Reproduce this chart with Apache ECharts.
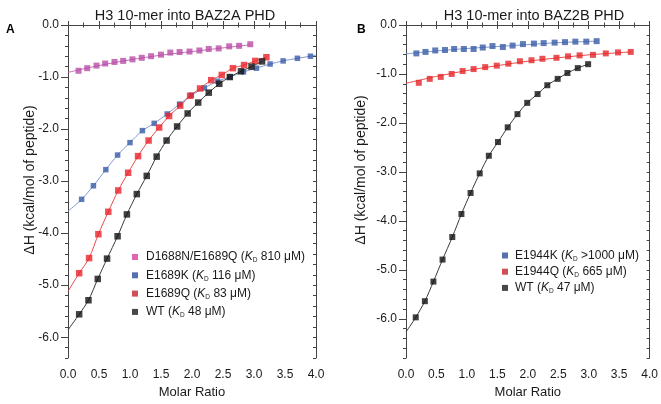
<!DOCTYPE html>
<html>
<head>
<meta charset="utf-8">
<script src="https://cdn.jsdelivr.net/npm/echarts@6/dist/echarts.min.js"></script>
<style>
  html, body { margin: 0; padding: 0; background: #fff; }
  #main { width: 661px; height: 404px; }
</style>
</head>
<body>
<div id="main"></div>
<script>
// ---- data ----
// panel A: H3 10-mer into BAZ2A PHD
var aMagX = [0.17,0.31,0.46,0.60,0.75,0.89,1.04,1.19,1.34,1.50,1.65,1.80,1.96,2.12,2.27,2.43,2.60,2.76,2.94];
var aMagY = [-0.88,-0.83,-0.78,-0.74,-0.71,-0.69,-0.66,-0.63,-0.60,-0.57,-0.53,-0.52,-0.51,-0.49,-0.46,-0.45,-0.41,-0.40,-0.37];
var aBlueX = [0.22,0.41,0.61,0.80,1.00,1.20,1.39,1.60,1.80,1.99,2.20,2.41,2.61,2.83,3.04,3.26,3.47,3.70,3.91];
var aBlueY = [-3.35,-3.09,-2.78,-2.50,-2.26,-2.03,-1.89,-1.71,-1.52,-1.35,-1.21,-1.08,-1.00,-0.90,-0.83,-0.75,-0.69,-0.64,-0.60];
var aRedX = [0.18,0.34,0.49,0.65,0.81,0.97,1.13,1.30,1.47,1.63,1.81,1.97,2.13,2.31,2.48,2.66,2.84,3.02,3.20];
var aRedY = [-4.77,-4.48,-4.02,-3.59,-3.18,-2.84,-2.52,-2.22,-1.97,-1.75,-1.55,-1.36,-1.22,-1.06,-0.96,-0.83,-0.77,-0.69,-0.62];
var aWtX = [0.18,0.33,0.48,0.63,0.80,0.95,1.11,1.27,1.43,1.59,1.76,1.93,2.10,2.27,2.44,2.61,2.79,2.96,3.13];
var aWtY = [-5.56,-5.29,-4.88,-4.49,-4.06,-3.64,-3.25,-2.90,-2.53,-2.22,-1.95,-1.70,-1.49,-1.30,-1.13,-1.00,-0.89,-0.80,-0.70];

// fitted curves, panel A
var aMagFitX = [0, 0.5, 1.0, 1.5, 2.0, 2.5, 2.94];
var aMagFitY = [-0.91, -0.78, -0.67, -0.58, -0.51, -0.44, -0.38];
var aBlueFitX = [0].concat(aBlueX, [4.0]);
var aBlueFitY = [-3.58].concat(aBlueY, [-0.58]);
var aRedFitX = [0].concat(aRedX);
var aRedFitY = [-5.12].concat(aRedY);
var aWtFitX = [0].concat(aWtX);
var aWtFitY = [-5.86].concat(aWtY);

// panel B: H3 10-mer into BAZ2B PHD
var bBlueX = [0.17,0.32,0.48,0.64,0.79,0.95,1.11,1.26,1.42,1.59,1.75,1.92,2.10,2.26,2.44,2.61,2.78,2.96,3.13];
var bBlueY = [-0.58,-0.55,-0.52,-0.51,-0.49,-0.49,-0.49,-0.46,-0.43,-0.45,-0.42,-0.39,-0.38,-0.37,-0.36,-0.35,-0.34,-0.34,-0.33];
var bRedX = [0.21,0.39,0.57,0.75,0.93,1.11,1.30,1.49,1.68,1.87,2.06,2.24,2.47,2.66,2.85,3.07,3.28,3.48,3.69];
var bRedY = [-1.18,-1.10,-1.06,-1.00,-0.94,-0.90,-0.86,-0.83,-0.79,-0.74,-0.72,-0.69,-0.67,-0.64,-0.62,-0.61,-0.58,-0.56,-0.55];
var bWtX = [0.16,0.31,0.45,0.60,0.76,0.91,1.06,1.21,1.36,1.51,1.67,1.83,1.99,2.16,2.32,2.49,2.65,2.82,2.99];
var bWtY = [-5.97,-5.64,-5.24,-4.79,-4.33,-3.86,-3.43,-3.03,-2.67,-2.39,-2.09,-1.82,-1.59,-1.41,-1.23,-1.10,-0.98,-0.88,-0.80];

var bBlueFitX = [0, 0.5, 1.0, 1.5, 2.0, 2.5, 3.13];
var bBlueFitY = [-0.59, -0.53, -0.48, -0.44, -0.40, -0.36, -0.33];
var bRedFitX = [0, 0.5, 1.0, 1.5, 2.0, 2.5, 3.0, 3.69];
var bRedFitY = [-1.19, -1.05, -0.93, -0.83, -0.74, -0.67, -0.61, -0.55];
var bWtFitX = [0].concat(bWtX);
var bWtFitY = [-6.27].concat(bWtY);

// legends
var legendA = ['D1688N/E1689Q', 'E1689K', 'E1689Q', 'WT'];
var kdA = ['810 μM', '116 μM', '83 μM', '48 μM'];
var legendColorA = ['#d8409f', '#2d4e9c', '#c4222a', '#1a1a1a'];
var legendB = ['E1944K', 'E1944Q', 'WT '];
var kdB = ['>1000 μM', '665 μM', '47 μM'];
var legendColorB = ['#2d4e9c', '#c4222a', '#1a1a1a'];

var yMajorTicks = [0, -1, -2, -3, -4, -5, -6];

function pairs(xs, ys) {
    var out = [];
    for (var i = 0; i < xs.length; i++) out.push([xs[i], ys[i]]);
    return out;
}

var FONT = 'Liberation Sans, Arial, sans-serif';
var AXIS_COLOR = '#444';
var TEXT_COLOR = '#1a1a1a';

function xAxes(g) {
    return [
        {
            gridIndex: g, type: 'value', position: 'bottom', min: 0, max: 4, interval: 0.5,
            axisLine: { lineStyle: { color: AXIS_COLOR, width: 1 } },
            axisTick: { inside: true, length: 4, lineStyle: { color: AXIS_COLOR } },
            minorTick: { show: true, splitNumber: 2, length: 2.5, lineStyle: { color: AXIS_COLOR } },
            axisLabel: { margin: 11, fontSize: 12, color: TEXT_COLOR, fontFamily: FONT,
                formatter: function (v) { return v.toFixed(1); } },
            splitLine: { show: false },
            name: 'Molar Ratio', nameLocation: 'middle', nameGap: 28,
            nameTextStyle: { fontSize: 13, color: TEXT_COLOR, fontFamily: FONT }
        },
        {
            gridIndex: g, type: 'value', position: 'top', min: 0, max: 4, interval: 0.5,
            axisLine: { lineStyle: { color: AXIS_COLOR, width: 1 } },
            axisTick: { inside: true, length: 4, lineStyle: { color: AXIS_COLOR } },
            minorTick: { show: true, splitNumber: 2, length: 2.5, lineStyle: { color: AXIS_COLOR } },
            axisLabel: { show: false }, splitLine: { show: false }
        }
    ];
}

function yAxes(g, ymin) {
    return [
        {   // left, minor ticks + labels
            gridIndex: g, type: 'value', position: 'left', min: ymin, max: 0, interval: 0.2,
            axisLine: { show: true, lineStyle: { color: AXIS_COLOR, width: 1 } },
            axisTick: { show: true, length: 3, lineStyle: { color: AXIS_COLOR } },
            axisLabel: { margin: 9, fontSize: 12, color: TEXT_COLOR, fontFamily: FONT,
                formatter: function (v) {
                    return Math.abs(v - Math.round(v)) < 1e-6 ? Math.round(v).toFixed(1) : '';
                } },
            splitLine: { show: false }
        },
        {   // left, major ticks
            gridIndex: g, type: 'value', position: 'left', min: ymin, max: 0,
            axisLine: { show: false },
            axisTick: { show: true, length: 7, customValues: yMajorTicks, lineStyle: { color: AXIS_COLOR } },
            axisLabel: { show: false }, splitLine: { show: false }
        },
        {   // right mirror
            gridIndex: g, type: 'value', position: 'right', min: ymin, max: 0, interval: 0.2,
            axisLine: { show: true, lineStyle: { color: AXIS_COLOR, width: 1 } },
            axisTick: { show: true, inside: true, length: 3, lineStyle: { color: AXIS_COLOR } },
            axisLabel: { show: false }, splitLine: { show: false }
        }
    ];
}

function pointSeries(name, xs, ys, color, xi, yi, size) {
    return {
        name: name, type: 'scatter', xAxisIndex: xi, yAxisIndex: yi,
        symbol: 'rect', symbolSize: size, z: 5,
        itemStyle: { color: color },
        data: pairs(xs, ys)
    };
}

function fitSeries(xs, ys, color, xi, yi) {
    return {
        type: 'line', xAxisIndex: xi, yAxisIndex: yi, smooth: 0.3,
        showSymbol: false, symbol: 'none', z: 2, silent: true,
        lineStyle: { color: color, width: 1 },
        data: pairs(xs, ys)
    };
}

function legendFormatter(names, kds) {
    return function (name) {
        var i = names.indexOf(name);
        return '{n|' + name.trim() + ' (}{k|K}{d|D}{n| ' + kds[i] + ')}';
    };
}

var legendRich = {
    n: { fontSize: 12, color: TEXT_COLOR, fontFamily: FONT },
    k: { fontSize: 12, color: TEXT_COLOR, fontFamily: FONT, fontStyle: 'italic' },
    d: { fontSize: 6.5, color: TEXT_COLOR, fontFamily: FONT, padding: [7, 0, 0, 0] }
};

function legendData(names, colors) {
    var out = [];
    for (var i = 0; i < names.length; i++) {
        out.push({ name: names[i], icon: 'rect', itemStyle: { color: colors[i] } });
    }
    return out;
}

var dom = document.getElementById('main');
var myChart = echarts.init(dom, null, { renderer: 'canvas' });

var option = {
    backgroundColor: '#fff',
    animation: false,
    textStyle: { fontFamily: FONT },
    title: [
        { text: 'H3 10-mer into BAZ2A PHD', left: 180, top: 3, textAlign: 'center',
          textStyle: { fontSize: 14.5, fontWeight: 'normal', color: TEXT_COLOR, fontFamily: FONT } },
        { text: 'H3 10-mer into BAZ2B PHD', left: 529, top: 3, textAlign: 'center',
          textStyle: { fontSize: 14.5, fontWeight: 'normal', color: TEXT_COLOR, fontFamily: FONT } },
        { text: 'A', left: 1, top: 19, textStyle: { fontSize: 12, fontWeight: 'bold', color: '#000', fontFamily: FONT } },
        { text: 'B', left: 352, top: 19, textStyle: { fontSize: 12, fontWeight: 'bold', color: '#000', fontFamily: FONT } }
    ],
    graphic: [
        { type: 'text', x: 30, y: 180, rotation: Math.PI / 2,
          style: { text: 'ΔH (kcal/mol of peptide)', fontSize: 14, fill: TEXT_COLOR, fontFamily: FONT,
                   align: 'center', verticalAlign: 'middle' } },
        { type: 'text', x: 361, y: 170, rotation: Math.PI / 2,
          style: { text: 'ΔH (kcal/mol of peptide)', fontSize: 14, fill: TEXT_COLOR, fontFamily: FONT,
                   align: 'center', verticalAlign: 'middle' } }
    ],
    grid: [
        { left: 68, right: 345, top: 25, bottom: 38 },
        { left: 406, right: 8, top: 25, bottom: 38 }
    ],
    legend: [
        { orient: 'vertical', left: 132, top: 251, padding: 0, itemGap: 5.3,
          itemWidth: 6, itemHeight: 6, selectedMode: false,
          data: legendData(legendA, legendColorA),
          formatter: legendFormatter(legendA, kdA),
          textStyle: { fontFamily: FONT, rich: legendRich, padding: [0, 0, 0, 3] } },
        { orient: 'vertical', left: 502, top: 249.5, padding: 0, itemGap: 3.2,
          itemWidth: 6, itemHeight: 6, selectedMode: false,
          data: legendData(legendB, legendColorB),
          formatter: legendFormatter(legendB, kdB),
          textStyle: { fontFamily: FONT, rich: legendRich, padding: [0, 0, 0, 2] } }
    ],
    xAxis: xAxes(0).concat(xAxes(1)),
    yAxis: yAxes(0, -6.4).concat(yAxes(1, -6.8)),
    series: [
        // panel A fits
        fitSeries(aMagFitX, aMagFitY, '#c76bb5', 0, 0),
        fitSeries(aBlueFitX, aBlueFitY, '#7f9ad0', 0, 0),
        fitSeries(aRedFitX, aRedFitY, '#ee4a4a', 0, 0),
        fitSeries(aWtFitX, aWtFitY, '#3a3a3a', 0, 0),
        // panel A points
        pointSeries('D1688N/E1689Q', aMagX, aMagY, '#b84ca6', 0, 0, 6),
        pointSeries('E1689K', aBlueX, aBlueY, '#3a5ca8', 0, 0, 5.5),
        pointSeries('E1689Q', aRedX, aRedY, '#e8232a', 0, 0, 6.5),
        pointSeries('WT', aWtX, aWtY, '#111111', 0, 0, 6.5),
        // panel B fits
        fitSeries(bBlueFitX, bBlueFitY, '#7f9ad0', 2, 3),
        fitSeries(bRedFitX, bRedFitY, '#ee4a4a', 2, 3),
        fitSeries(bWtFitX, bWtFitY, '#3a3a3a', 2, 3),
        // panel B points
        pointSeries('E1944K', bBlueX, bBlueY, '#3a5ca8', 2, 3, 6),
        pointSeries('E1944Q', bRedX, bRedY, '#e5262b', 2, 3, 6),
        pointSeries('WT ', bWtX, bWtY, '#111111', 2, 3, 6)
    ]
};

if (option && typeof option === "object") {
    myChart.setOption(option, true);
}
</script>
</body>
</html>
